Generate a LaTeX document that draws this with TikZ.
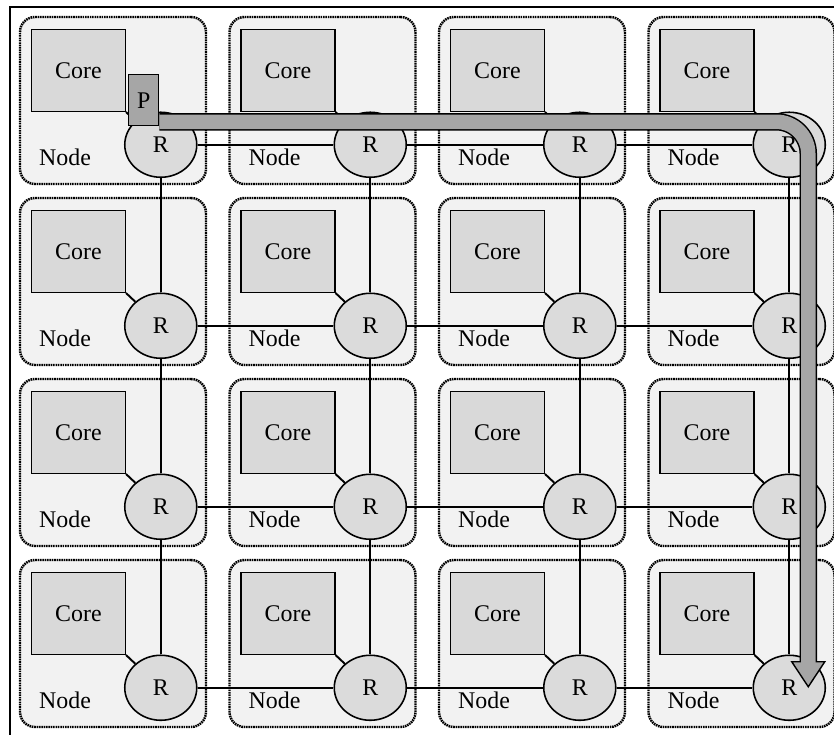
\documentclass[tikz,border=0pt]{standalone}
\usepackage{fontspec}
\setmainfont{Liberation Serif}
\usetikzlibrary{shapes.geometric,positioning,calc}

\definecolor{tilegray}{gray}{0.95}
\definecolor{coregray}{gray}{0.85}
\definecolor{routergray}{gray}{0.86}
\definecolor{pathgray}{gray}{0.65}

\tikzset{
	tile/.style={draw, fill=tilegray, rounded corners=0.3cm, line width=1.4pt,
		dash pattern=on 0.9pt off 0.45pt, minimum width=3.72cm, minimum height=3.34cm, inner sep=0},
	core/.style={draw, fill=coregray, line width=0.7pt, minimum width=1.88cm, minimum height=1.64cm, inner sep=0},
	router/.style={draw, fill=routergray, ellipse, line width=0.9pt, minimum width=1.44cm, minimum height=1.3cm, inner sep=0},
	packet/.style={draw, fill=pathgray, line width=0.8pt, minimum width=0.6cm, minimum height=1.02cm, inner sep=0},
	link/.style={line width=1.1pt},
	tag/.style={inner sep=0, anchor=west}
}

\begin{document}
\begin{tikzpicture}[font=\fontsize{13.6}{16}\selectfont]
	\useasboundingbox (0,0) rectangle (16.68,-14.7);
	\draw[line width=0.8pt] (0.2,-14.7) |- (16.68,-0.14);
	% tiles: column \i, row \j
	\foreach \i in {0,1,2,3}
	\foreach \j in {0,1,2,3} {
		\node[tile] (N\i\j) at ({2.26+4.19*\i},{-2.01-3.62*\j}) {};
		\node[core, below right=0.26cm and 0.24cm of N\i\j.north west] (C\i\j) {Core};
		\node[router] (R\i\j) at ($(N\i\j.north west)+(2.84,-2.58)$) {R};
		\node[tag] (L\i\j) at ($(N\i\j.north west)+(0.4,-2.84)$) {Node};
		\draw[link] (C\i\j.south east) -- (R\i\j);
	}
	% mesh links
	\foreach \i in {0,1,2,3}
	\foreach \j/\k in {0/1,1/2,2/3} {
		\draw[link] (R\j\i) -- (R\k\i);
		\draw[link] (R\i\j) -- (R\i\k);
	}
	% packet route
	\coordinate (pin) at ($(N00.north west)+(2.814,-2.12)$);
	\coordinate (tip) at ($(R33)+(0.38,0.02)$);
	\coordinate (base) at ($(tip)+(0,0.5)$);
	\draw[line width=0.35cm, rounded corners=0.64cm] (pin) -| (base);
	\draw[fill=pathgray, line width=0.8pt] ($(base)+(-0.33,0)$) -- (tip) -- ($(base)+(0.33,0)$) -- cycle;
	\draw[line width=0.29cm, pathgray, rounded corners=0.64cm] (pin) -| ($(base)+(0,-0.04)$);
	\node[packet] (P) at ($(N00.north west)+(2.5,-1.69)$) {P};
\end{tikzpicture}
\end{document}
